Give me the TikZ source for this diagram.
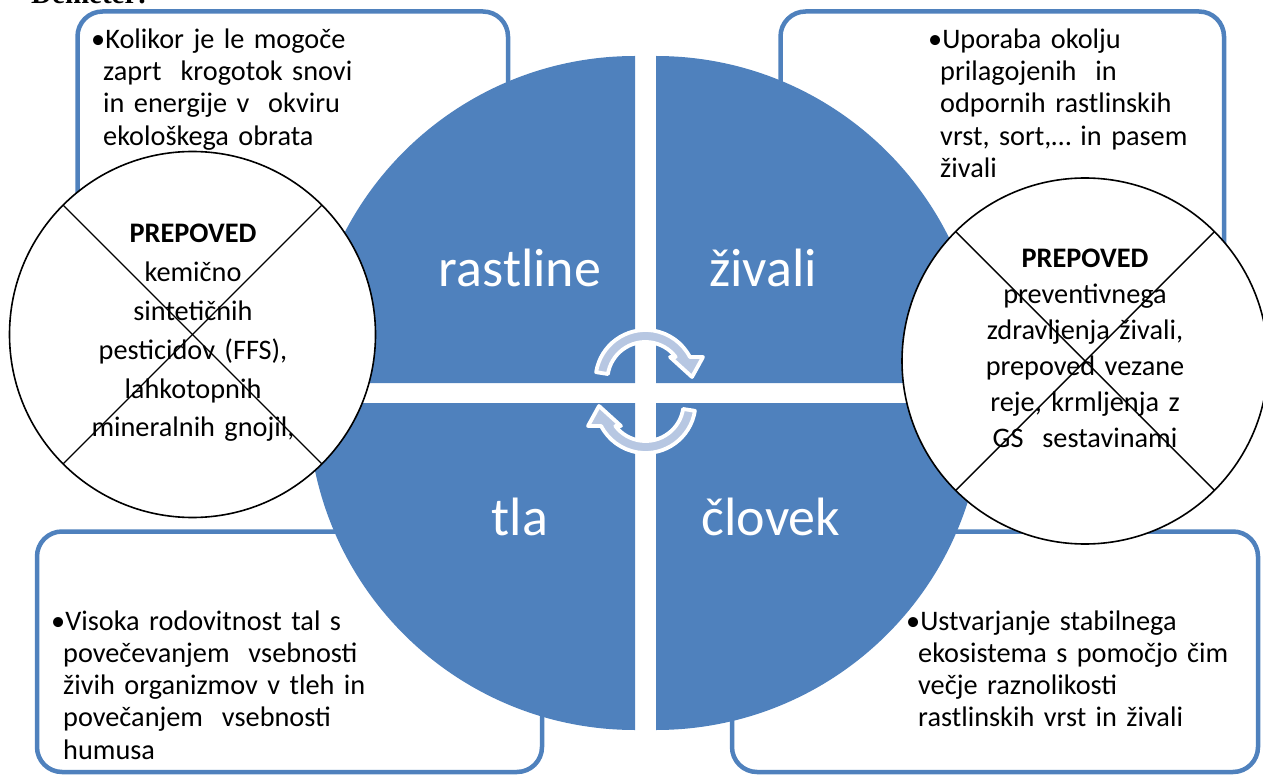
\documentclass[tikz,border=0pt]{standalone}
\usepackage{fontspec}
\setmainfont{Carlito}
\newfontfamily\serifdem{Liberation Serif}
\usetikzlibrary{calc}
\definecolor{qblue}{RGB}{79,129,189}
\definecolor{arrowfill}{RGB}{183,199,226}
\begin{document}
\begin{tikzpicture}[x=1pt,y=-1pt,
  box/.style={draw=qblue, line width=4.5pt, fill=white, rounded corners=25pt},
  quad/.style={fill=qblue},
  qlabel/.style={text=white, font=\fontsize{54}{60}\selectfont, anchor=base, inner sep=0pt},
  btext/.style={anchor=base west, inner sep=0pt, text width=330pt, align=left, font=\fontsize{28.3}{32.3}\selectfont},
  ctext/.style={anchor=base, inner sep=0pt, text width=330pt, align=center},
  banc/.style={circle, draw=black, line width=1.6pt, fill=white, minimum size=366pt, inner sep=0pt, outer sep=0pt},
  xline/.style={draw=black, line width=1.4pt},
  carrow/.style={fill=arrowfill, draw=white, line width=3.8pt, line join=round}
]
\useasboundingbox (0,0) rectangle (1263,775);

% cut-off heading
\node[anchor=base west, inner sep=0pt, font=\fontsize{29}{30}\serifdem\bfseries] (dem) at (31,3.5) {Demeter:};

% boxes
\path[box] (77.5,11.5) rectangle (508,330);
\path[box] (780.5,11.5) rectangle (1224,330);
\path[box] (37,531.5) rectangle (542,772);
\path[box] (732,531.5) rectangle (1258,772);

% box texts
\node[btext] (ttl) at (91,48.3) {•Kolikor je le mogoče\\\hspace*{12pt}zaprt\ \ krogotok snovi\\\hspace*{12pt}in energije v\ \ okviru\\\hspace*{12pt}ekološkega obrata};
\node[btext] (ttr) at (928,48.3) {•Uporaba okolju\\\hspace*{12pt}prilagojenih\ \ in\\\hspace*{12pt}odpornih rastlinskih\\\hspace*{12pt}vrst, sort,… in pasem\\\hspace*{12pt}živali};
\node[btext] (tbl) at (51,630) {•Visoka rodovitnost tal s\\\hspace*{12pt}povečevanjem\ \ vsebnosti\\\hspace*{12pt}živih organizmov v tleh in\\\hspace*{12pt}povečanjem\ \ vsebnosti\\\hspace*{12pt}humusa};
\node[btext] (tbr) at (906,630) {•Ustvarjanje stabilnega\\\hspace*{12pt}ekosistema s pomočjo čim\\\hspace*{12pt}večje raznolikosti\\\hspace*{12pt}rastlinskih vrst in živali};

% quadrants
\fill[quad] (635,383) -- (635,56) arc[start angle=-90, end angle=-180, radius=327] -- cycle;
\fill[quad] (656,383) -- (656,56) arc[start angle=-90, end angle=0, radius=327] -- cycle;
\fill[quad] (635,403) -- (308,403) arc[start angle=180, end angle=90, radius=327] -- cycle;
\fill[quad] (656,403) -- (983,403) arc[start angle=0, end angle=90, radius=327] -- cycle;

\node[qlabel] (lrast) at (520,287) {rastline};
\node[qlabel] (lziv) at (763,287) {živali};
\node[qlabel] (ltla) at (520,535) {tla};
\node[qlabel] (lclo) at (771,535) {človek};

% circular arrows
\begin{scope}[shift={(645.5,380)}]
\path[carrow] (-171:50) arc[start angle=-171, end angle=-27.4, radius=50] -- (57.5,-23) -- (46.5,-3) -- (24.5,-23) -- (30.2,-23) arc[start angle=-37.2, end angle=-171, radius=38] -- cycle;
\end{scope}
\begin{scope}[shift={(645.5,403)}, rotate=180]
\path[carrow] (-171:50) arc[start angle=-171, end angle=-27.4, radius=50] -- (57.5,-23) -- (46.5,-3) -- (24.5,-23) -- (30.2,-23) arc[start angle=-37.2, end angle=-171, radius=38] -- cycle;
\end{scope}

% prohibition circles
\node[banc] (lcirc) at (192.5,334.5) {};
\draw[xline] (lcirc.north west) -- (lcirc.south east);
\draw[xline] (lcirc.north east) -- (lcirc.south west);
\node[ctext, font=\fontsize{28.3}{38.8}\selectfont] (tlc) at (193,243) {\textbf{PREPOVED}\\kemično\\sintetičnih\\pesticidov (FFS),\\lahkotopnih\\mineralnih gnojil,};

\node[banc] (rcirc) at (1085,361) {};
\draw[xline] (rcirc.north west) -- (rcirc.south east);
\draw[xline] (rcirc.north east) -- (rcirc.south west);
\node[ctext, font=\fontsize{28.3}{36}\selectfont] (trc) at (1085,268) {\textbf{PREPOVED}\\preventivnega\\zdravljenja živali,\\prepoved vezane\\reje, krmljenja z\\GS\ \ sestavinami};
\end{tikzpicture}
\end{document}
